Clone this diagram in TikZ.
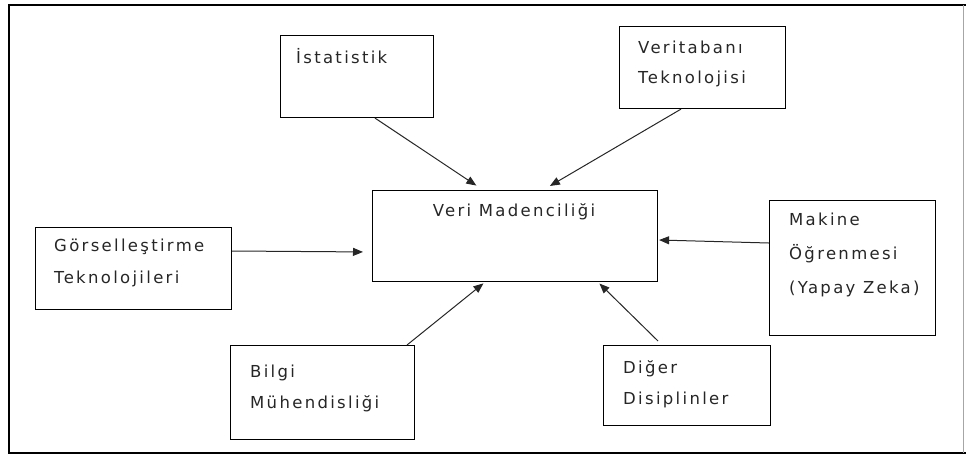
\documentclass[tikz,border=0pt]{standalone}
\usepackage{fontspec}
\setmainfont{DejaVu Sans}[LetterSpace=14]
\usetikzlibrary{arrows.meta,calc}
\tikzset{
  box/.style={draw=black,line width=1.1pt,rectangle,inner sep=0pt,anchor=north west},
  lbl/.style={inner sep=0pt,anchor=base west,align=left,font=\fontsize{16.5}{31}\selectfont,text=black!85},
  arr/.style={line width=1pt,draw=black!85,-{Triangle[length=10pt,width=8pt]}}
}
\begin{document}
\begin{tikzpicture}[x=1pt,y=-1pt]
\useasboundingbox (0,0) rectangle (966,456);
% frame
\draw[line width=1.8pt] (966,5) -- (9,5) -- (9,453) -- (966,453);
\draw[line width=0.8pt,black!35] (963,5) -- (963,453);
% boxes
\node[box,minimum width=153pt,minimum height=82pt] (ist) at (280,35) {};
\node[box,minimum width=166pt,minimum height=82pt] (vt) at (619,26) {};
\node[box,minimum width=285pt,minimum height=91pt] (vm) at (372,190) {};
\node[box,minimum width=196pt,minimum height=82pt] (gor) at (35,227) {};
\node[box,minimum width=184pt,minimum height=94pt] (bil) at (230,345) {};
\node[box,minimum width=167pt,minimum height=80pt] (dig) at (603,345) {};
\node[box,minimum width=166pt,minimum height=135pt] (mak) at (769,200) {};
% labels (multi-line: anchor is baseline of the last line)
\node[lbl] (tist) at (296,63) {İstatistik};
\node[lbl,font=\fontsize{16.5}{30}\selectfont] (tvt) at (638,83) {Veritabanı\\Teknolojisi};
\node[lbl,anchor=base] (tvm) at (514,216) {Veri Madenciliği};
\node[lbl,font=\fontsize{16.5}{32}\selectfont] (tgor) at (54,283) {Görselleştirme\\Teknolojileri};
\node[lbl] (tbil) at (250,408) {Bilgi\\Mühendisliği};
\node[lbl] (tdig) at (623,404) {Diğer\\Disiplinler};
\node[lbl,font=\fontsize{16.5}{34}\selectfont] (tmak) at (789,293) {Makine\\Öğrenmesi\\(Yapay Zeka)};
% connectors
\draw[arr,shorten >=8pt] ($(ist.south west)+(95,0)$) -- ($(vm.north west)+(111,0)$);
\draw[arr,shorten >=8pt] ($(vt.south west)+(62,0)$) -- ($(vm.north west)+(171,0)$);
\draw[arr,shorten >=9pt] ($(gor.north east)+(0,24)$) -- ($(vm.north west)+(0,62)$);
\draw[arr,shorten >=0pt] ($(mak.north west)+(0,43)$) -- ($(vm.north east)+(1,50)$);
\draw[arr,shorten >=2pt] ($(bil.north west)+(177,0)$) -- ($(vm.south west)+(113,0)$);
\draw[arr,shorten >=2pt] ($(dig.north west)+(55,-4)$) -- ($(vm.south west)+(226,0)$);
\end{tikzpicture}
\end{document}
